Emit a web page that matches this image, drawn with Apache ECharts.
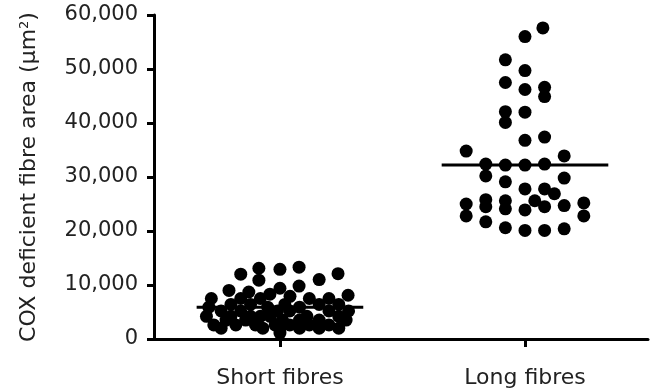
<!DOCTYPE html>
<html>
<head>
<meta charset="utf-8">
<style>html,body{margin:0;padding:0;background:#fff}#c{width:655px;height:389px}</style>
<script src="https://cdn.jsdelivr.net/npm/echarts@6/dist/echarts.min.js"></script>
</head>
<body>
<div id="c"></div>
<script>
const categories = ['Short fibres', 'Long fibres'];
const yTicks = [0, 10000, 20000, 30000, 40000, 50000, 60000];
const medians = [5900, 32200];

// Short fibres: values and horizontal scatter offsets (in category units)
const shortValues = [
  12000, 13100, 10900, 12900, 13300, 9800, 11000, 12100, 9000, 8700, 9400, 8100, 8300, 7900,
  7500, 7500, 7500, 7500, 7500,
  6400, 6400, 6400, 6400, 6400,
  5900, 5900, 5900,
  5200, 5200, 5200, 5200, 5200, 5200,
  4200, 4200, 4200, 4200, 4200, 4200, 4200,
  3500, 3500, 3500, 3500, 3500, 3500,
  2600, 2600, 2600, 2600, 2600, 2600, 2600,
  2000, 2000, 2000, 2000, 2000, 2000,
  1100
];
const shortJitter = [
  -0.16, -0.086, -0.086, 0, 0.078, 0.078, 0.16, 0.237, -0.208, -0.127, 0, 0.278, -0.041, 0.041,
  -0.28, -0.16, -0.08, 0.12, 0.20,
  -0.20, -0.12, 0.02, 0.16, 0.24,
  -0.29, -0.05, 0.08,
  -0.24, -0.16, -0.01, 0.04, 0.20, 0.28,
  -0.30, -0.20, -0.12, -0.08, -0.04, 0.11, 0.24,
  -0.22, -0.14, 0.01, 0.08, 0.16, 0.27,
  -0.27, -0.18, -0.10, -0.02, 0.04, 0.12, 0.20,
  -0.24, -0.07, 0, 0.08, 0.16, 0.24,
  0
];

// Long fibres
const longValues = [
  57600, 56000, 51700, 49700, 47500, 46200, 46600, 44900, 42100, 40100, 42000,
  36800, 37400, 34800, 33900, 32400, 32200, 32200, 32400, 30200, 29800, 29100,
  27800, 27800, 26900, 25600, 24500, 23900, 24700, 25200, 22800, 25000, 22800,
  25800, 24500, 25600, 24100, 21700, 20600, 20100, 20100, 20400
];
const longJitter = [
  0.073, 0, -0.08, 0, -0.08, 0, 0.08, 0.08, -0.08, -0.08, 0,
  0, 0.08, -0.24, 0.16, -0.16, -0.08, 0, 0.08, -0.16, 0.16, -0.08,
  0, 0.08, 0.12, 0.04, 0.08, 0, 0.16, 0.24, 0.24, -0.24, -0.24,
  -0.16, -0.16, -0.08, -0.08, -0.16, -0.08, 0, 0.08, 0.16
];

const FONT = 'DejaVu Sans';
const TXT = '#222';
const MEDIAN_HALF = 0.34;

function fmt(v) { return String(v).replace(/\B(?=(\d{3})+(?!\d))/g, ','); }

function pts(vals, jit, idx) {
  return vals.map((v, i) => [idx + 1 + jit[i], v]);
}

const chart = echarts.init(document.getElementById('c'), null, { renderer: 'canvas' });
chart.setOption({
  animation: false,
  backgroundColor: '#fff',
  grid: { left: 154, right: 7, top: 15, bottom: 49, containLabel: false },
  xAxis: {
    type: 'value', min: 0.486, max: 2.502,
    splitLine: { show: false },
    axisLine: { show: true, onZero: false, lineStyle: { color: '#000', width: 3 } },
    axisTick: { show: true, customValues: [1, 2], length: 8, lineStyle: { color: '#000', width: 3 } },
    axisLabel: {
      customValues: [1, 2], margin: 28,
      formatter: v => categories[Math.round(v) - 1] || '',
      color: TXT, fontSize: 22, fontFamily: FONT
    }
  },
  yAxis: {
    type: 'value', min: yTicks[0], max: yTicks[yTicks.length - 1], interval: 10000,
    splitLine: { show: false },
    axisLine: { show: true, lineStyle: { color: '#000', width: 3 } },
    axisTick: { show: true, length: 7, lineStyle: { color: '#000', width: 3 } },
    axisLabel: { formatter: v => fmt(v), color: TXT, fontSize: 21, fontFamily: FONT, margin: 16 },
    name: '{a|COX deficient fibre area (µm}{s|2}{a|)}',
    nameLocation: 'middle', nameGap: 113, nameRotate: 90,
    nameTextStyle: {
      rich: {
        a: { fontSize: 22, fontFamily: FONT, color: TXT },
        s: { fontSize: 13, fontFamily: FONT, color: TXT, verticalAlign: 'top', padding: [0, 0, 10, 0] }
      }
    }
  },
  series: [
    {
      type: 'scatter', data: pts(shortValues, shortJitter, 0),
      symbol: 'circle', symbolSize: 13, itemStyle: { color: '#000', opacity: 1 }
    },
    {
      type: 'scatter', data: pts(longValues, longJitter, 1),
      symbol: 'circle', symbolSize: 13, itemStyle: { color: '#000', opacity: 1 }
    },
    ...medians.map((m, i) => ({
      type: 'line', symbol: 'none', silent: true,
      data: [[i + 1 - MEDIAN_HALF, m], [i + 1 + MEDIAN_HALF, m]],
      lineStyle: { color: '#000', width: 3 }
    }))
  ]
});
</script>
</body>
</html>
